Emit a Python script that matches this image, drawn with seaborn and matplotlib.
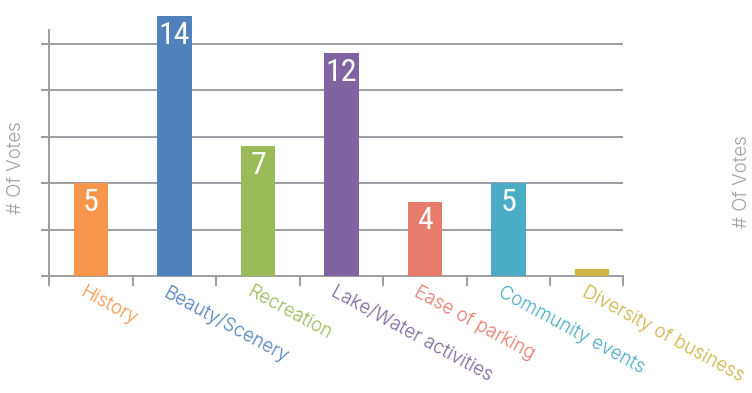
import matplotlib
matplotlib.use("Agg")
import matplotlib.pyplot as plt
import matplotlib.transforms as mtransforms
from matplotlib import font_manager as fm
import seaborn as sns
import pandas as pd

# Survey results: what people value most
categories = ["History", "Beauty/Scenery", "Recreation", "Lake/Water activities",
              "Ease of parking", "Community events", "Diversity of business"]
votes = [5, 14, 7, 12, 4, 5, 0.4]
value_labels = ["5", "14", "7", "12", "4", "5", ""]
colors = ["#F7964A", "#4F81BD", "#9BBB59", "#8064A2", "#E87B6C", "#4BACC6", "#CDB444"]

grid_values = [0, 2.5, 5, 7.5, 10, 12.5]
axis_title = "# Of Votes"


def first_font(candidates):
    names = set(fm.fontManager.get_font_names())
    for c in candidates:
        if c in names:
            return c
    return "DejaVu Sans"


text_font = first_font(["Inter", "Roboto", "Open Sans", "DejaVu Sans"])
number_font = first_font(["Roboto Condensed", "Oswald", "PT Sans Narrow",
                          "Archivo Narrow", "Fjalla One", "Liberation Sans Narrow"])

sns.set_theme(style="white")
plt.rcParams["font.family"] = [text_font, "DejaVu Sans"]

GRAY = "#9d9ea3"
X_LEFT, X_RIGHT = -0.503, 6.37

fig = plt.figure(figsize=(7.52, 3.93), dpi=100)
ax = fig.add_axes([49 / 752, 1 - 276 / 393, (623 - 49) / 752, (276 - 30) / 393])

df = pd.DataFrame({"category": categories, "votes": votes})
sns.barplot(data=df, x="category", y="votes", hue="category", palette=colors,
            width=0.41, legend=False, ax=ax, saturation=1, zorder=3, linewidth=0)

# horizontal gridlines
ax.set_yticks(grid_values)
ax.set_yticklabels([])
for gv in grid_values[1:]:
    ax.axhline(gv, color=GRAY, lw=1.4, zorder=1)
ax.tick_params(axis="y", which="major", direction="out", length=6, width=1.4,
               color=GRAY, left=True)

# category separators on the baseline, plus a closing tick at the axis end
separators = [i - 0.5 for i in range(len(categories))] + [X_RIGHT]
ax.set_xticks(separators, minor=True)
ax.tick_params(axis="x", which="minor", direction="out", length=7, width=1.4,
               color=GRAY, bottom=True)
ax.set_xticks(range(len(categories)))
ax.set_xticklabels(categories)
ax.tick_params(axis="x", which="major", length=0, pad=5)

ax.set_ylim(0, 13.23)
ax.set_xlim(X_LEFT, X_RIGHT)

for side in ["top", "right"]:
    ax.spines[side].set_visible(False)
for side in ["left", "bottom"]:
    ax.spines[side].set_color(GRAY)
    ax.spines[side].set_linewidth(1.4)

ax.set_xlabel("")
ax.set_ylabel("")

shift = mtransforms.ScaledTranslation(-5 / 100, 0, fig.dpi_scale_trans)
for lbl, col in zip(ax.get_xticklabels(), colors):
    lbl.set_color(col)
    lbl.set_rotation(-28.5)
    lbl.set_rotation_mode("anchor")
    lbl.set_ha("left")
    lbl.set_va("top")
    lbl.set_fontsize(13.5)
    lbl.set_fontweight(300)
    lbl.set_transform(lbl.get_transform() + shift)

for bar, txt in zip(ax.patches, value_labels):
    bar.set_clip_on(False)
    if txt:
        ax.annotate(txt, (bar.get_x() + bar.get_width() / 2, bar.get_height()),
                    xytext=(0, -3.5), textcoords="offset points", ha="center", va="top",
                    color="white", fontsize=23, family=[number_font, "DejaVu Sans"],
                    fontweight="normal", annotation_clip=False, zorder=5)

fig.text(16 / 752, 1 - 168 / 393, axis_title, rotation=90, ha="center", va="center",
         color="#a3a3a3", fontsize=13.5, fontweight=300)
fig.text(751 / 752, 1 - 182 / 393, axis_title, rotation=90, ha="right", va="center",
         color="#a3a3a3", fontsize=13.5, fontweight=300)

fig.savefig("out.png", dpi=100, facecolor="white")
